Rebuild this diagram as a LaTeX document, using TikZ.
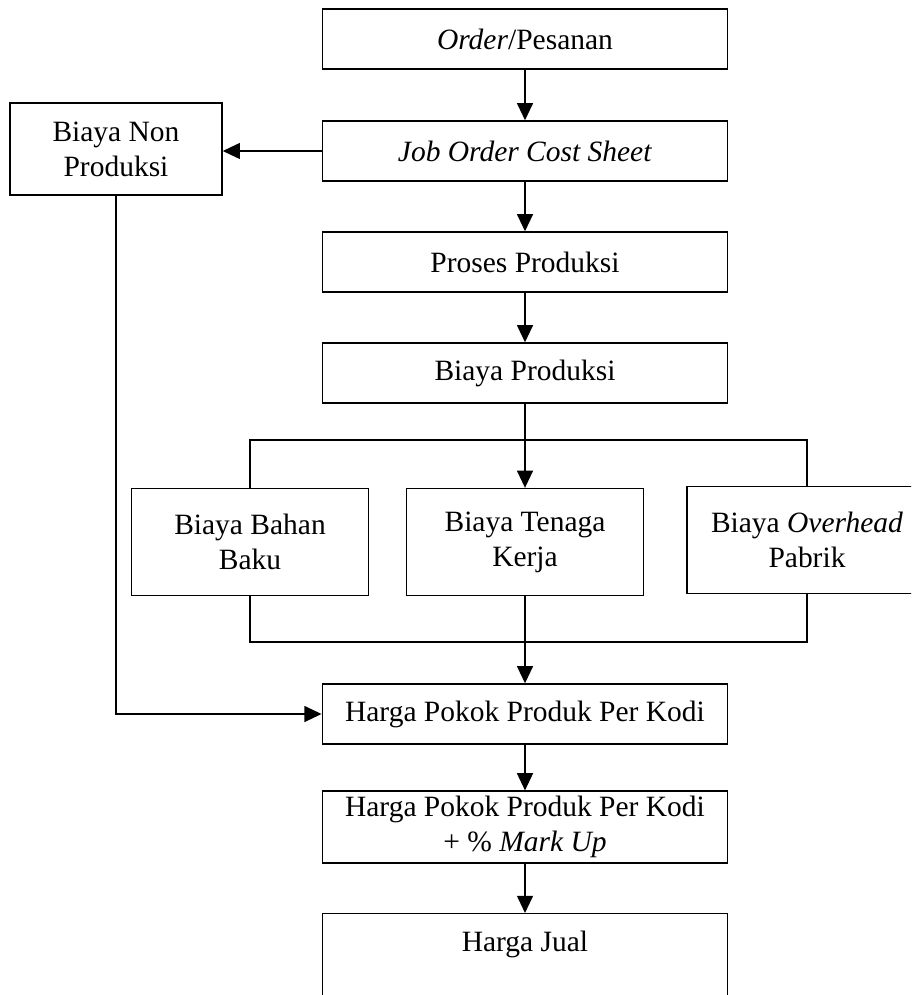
\documentclass[tikz,border=0pt]{standalone}
\usepackage{fontspec}
\setmainfont{Liberation Serif}
\usetikzlibrary{arrows.meta}

\begin{document}
\begin{tikzpicture}[x=0.407pt, y=-0.407pt, line width=0.6pt, >={Triangle[length=7pt,width=6.5pt]},
	block/.style={draw, align=center, inner sep=2pt, font=\fontsize{12}{14.3}\selectfont, minimum width=165pt, minimum height=24.4pt},
	costblock/.style={block, minimum width=96.5pt, minimum height=43.5pt}]

\clip (0,0) rectangle (911,995);
\fill[white] (0,0) rectangle (911,995);

				% main column
				\node [block] (order) at (525,39) {\textit{Order}/Pesanan};
				\node [block] (jocs) at (525,151) {\textit{Job Order Cost Sheet}};
				\node [block, minimum width=86.3pt, minimum height=37.4pt] (nonprod) at (116,149) {Biaya Non\\Produksi};
				\node [block] (proses) at (525,262) {Proses Produksi};
				\node [block] (bprod) at (525,373) {Biaya Produksi};
				% the three costs
				\node [costblock] (bahan) at (250,542) {Biaya Bahan\\Baku};
				\node [costblock] (tenaga) at (525,542) {Biaya Tenaga\\Kerja};
				\node [costblock, minimum width=97.7pt] (overhead) at (807,540) {Biaya \textit{Overhead}\\Pabrik};
				\coordinate (topbar) at (525,440);
				\coordinate (botbar) at (525,642);
				% lower part
				\node [block] (hpp) at (525,714) {Harga Pokok Produk Per Kodi};
				\node [block] (markup) at (525,827) {Harga Pokok Produk Per Kodi\\+ \% \textit{Mark Up}};
				\node [block, anchor=north, minimum height=35.4pt, text depth=13pt] (jual) at (525,913) {Harga Jual};

				% connections
				\draw [->] (order) -- (jocs);
				\draw [->] (jocs.west) -- (jocs.west -| nonprod.east);
				\draw [->] (jocs) -- (proses);
				\draw [->] (proses) -- (bprod);
				\draw [->] (bprod.south) -- (tenaga.north);
				\draw (bahan.north) |- (topbar) -| (overhead.north);
				\draw (bahan.south) |- (botbar) -| (overhead.south);
				\draw [->] (tenaga.south) -- (hpp.north);
				\draw [->] (nonprod.south) |- (hpp.west);
				\draw [->] (hpp) -- (markup);
				\draw [->] (markup) -- (jual);

\end{tikzpicture}
\end{document}
